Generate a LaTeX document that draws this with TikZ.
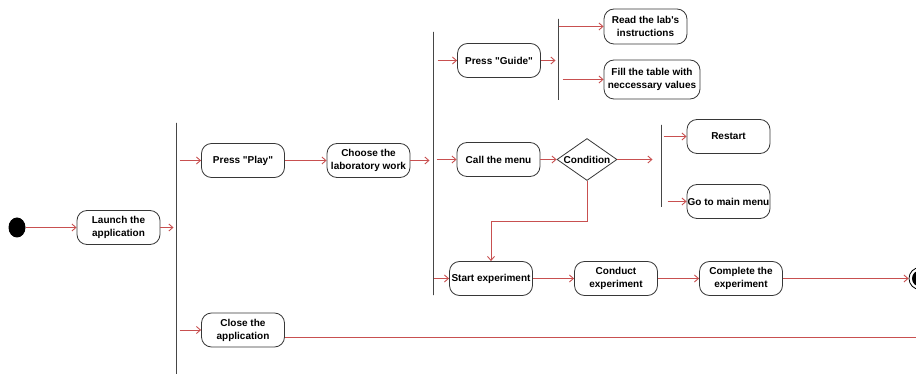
\documentclass[tikz,border=0pt]{standalone}
\usepackage{fontspec}
\setmainfont{Liberation Sans}
\usetikzlibrary{arrows.meta,shapes.geometric}
\definecolor{arr}{RGB}{200,80,80}
\definecolor{edgec}{RGB}{55,55,55}
\definecolor{barc}{RGB}{70,70,70}
\font\rawbold="Liberation Sans/B" at 10pt
\newcommand{\dq}{{\rawbold\char34}}
\newcommand{\sq}{{\rawbold\char39}}
\begin{document}
\begin{tikzpicture}[x=1pt,y=-1pt,
  lbl/.style={font=\bfseries\fontsize{10}{13}\selectfont},
  act/.style={lbl, draw=edgec, line width=0.8pt, rounded corners=10pt, minimum width=83pt, minimum height=34pt, inner sep=0.5pt, align=center},
  bar/.style={draw=barc, line width=0.9pt, minimum width=0pt, minimum height=#1, inner sep=0pt},
  flow/.style={draw=arr, line width=0.9pt, -{Straight Barb[length=4pt,width=7pt]}}]
\useasboundingbox (0,0) rectangle (916,374);
% nodes
\node[ellipse, fill=black, minimum width=17pt, minimum height=20pt, inner sep=0pt] (init) at (17,227.5) {};
\node[act] (launch) at (118.5,227.5) {Launch the\\application};
\node[act] (play) at (243,160.5) {Press \dq Play\dq};
\node[act] (close) at (243,330) {Close the\\application};
\node[act] (choose) at (368.5,160.5) {Choose the\\laboratory work};
\node[act] (guide) at (499,60.5) {Press \dq Guide\dq};
\node[act, minimum height=35pt] (read) at (645.5,26.5) {Read the lab\sq s\\instructions};
\node[act, minimum width=96pt, minimum height=39pt] (fill) at (652,79.5) {Fill the table with\\neccessary values};
\node[act] (callm) at (498.5,159.5) {Call the menu};
\node[lbl, diamond, draw=edgec, line width=0.8pt, aspect=1.43, minimum width=60pt, minimum height=42pt, inner sep=0pt] (cond) at (587,159.5) {Condition};
\node[act] (restart) at (728.5,136.5) {Restart};
\node[act] (gomenu) at (728.5,201.5) {Go to main menu};
\node[act] (start) at (491,278.5) {Start experiment};
\node[act] (conduct) at (616,278.5) {Conduct\\experiment};
\node[act] (complete) at (741,278.5) {Complete the\\experiment};
\node[circle, draw=black, line width=0.8pt, minimum size=22pt, inner sep=0pt] (final) at (920,278.5) {};
\fill[black] (final.center) circle (8pt);
% bars
\node[bar=251pt] (b1) at (176.5,248.5) {};
\node[bar=263pt] (b2) at (433.5,163.5) {};
\node[bar=81pt] (b3) at (558.5,59.5) {};
\node[bar=82pt] (b4) at (661.5,166) {};
% connectors
\draw[flow] (init) -- (launch);
\draw[flow, shorten >=3pt] (launch) -- (b1.center |- launch);
\draw[flow, shorten <=3pt] (b1.center |- play) -- (play);
\draw[flow, shorten <=3pt] (b1.center |- close) -- (close);
\draw[flow] (play) -- (choose);
\draw[flow, shorten >=4pt] (choose) -- (b2.center |- choose);
\draw[flow, shorten <=4pt] (b2.center |- guide) -- (guide);
\draw[flow, shorten <=3pt] (b2.center |- callm) -- (callm);
\draw[flow] (b2.center |- start) -- (start);
\draw[flow, shorten >=3pt] (guide) -- (b3.center |- guide);
\draw[flow] (b3.center |- read) -- (read);
\draw[flow, shorten <=4pt] (b3.center |- fill) -- (fill);
\draw[flow] (callm) -- (cond);
\draw[flow, shorten >=9pt] (cond) -- (b4.center |- cond);
\draw[flow, shorten <=2pt] (b4.center |- restart) -- (restart);
\draw[flow, shorten <=6pt] (b4.center |- gomenu) -- (gomenu);
\coordinate (turn) at (587,221.5);
\draw[flow] (cond.south) -- (turn) -| (start);
\draw[flow] (start) -- (conduct);
\draw[flow] (conduct) -- (complete);
\draw[flow] (complete) -- (final);
\coordinate (exitR) at (940,337.5);
\draw[flow, line width=1.2pt] (close.east |- exitR) -- (exitR);
\end{tikzpicture}
\end{document}
